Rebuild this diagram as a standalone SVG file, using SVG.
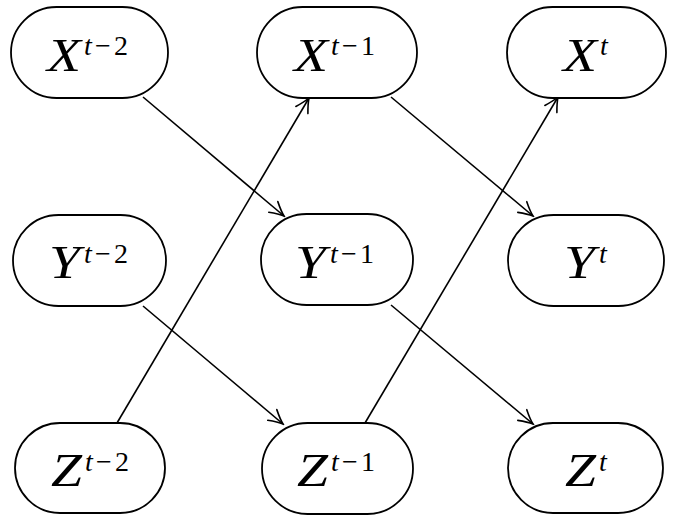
<svg xmlns="http://www.w3.org/2000/svg" width="678" height="524" viewBox="0 0 678 524">
<style>
.node rect{fill:#fff;stroke:#000;stroke-width:1.8}
.b{font-family:"Liberation Serif","Times New Roman",serif;font-style:italic;font-size:46px;fill:#000}
.s{font-family:"Liberation Serif","Times New Roman",serif;font-size:28px;fill:#000}
.i{font-style:italic}
.edge{stroke:#000;stroke-width:1.6;fill:none;marker-end:url(#arr)}
</style>
<defs>
<marker id="arr" markerUnits="userSpaceOnUse" viewBox="-17 -9 19 18" refX="0" refY="0" markerWidth="19" markerHeight="18" orient="auto">
<path d="M-14,-7 C-9,-4 -3,-1 0,0 C-3,1 -9,4 -14,7" fill="none" stroke="#000" stroke-width="1.6" stroke-linecap="round"/>
</marker>
</defs>
<rect width="678" height="524" fill="#fff"/>
<g id="connectors">
<line class="edge" x1="143" y1="97" x2="284" y2="216"/>
<line class="edge" x1="117" y1="423" x2="309" y2="98"/>
<line class="edge" x1="391" y1="97" x2="533" y2="216"/>
<line class="edge" x1="143" y1="306" x2="283" y2="424"/>
<line class="edge" x1="365" y1="423" x2="558" y2="97"/>
<line class="edge" x1="391" y1="305" x2="533" y2="424"/>
</g>
<g id="X_t-2" class="node">
<rect x="11" y="7" width="157" height="91" rx="45.5"/>
<text class="b" x="47" y="71" textLength="34" lengthAdjust="spacingAndGlyphs">X</text>
<text class="s" x="84" y="55" textLength="44" lengthAdjust="spacing"><tspan class="i">t</tspan>−2</text>
</g>
<g id="X_t-1" class="node">
<rect x="257" y="7" width="160" height="91" rx="45.5"/>
<text class="b" x="294" y="71" textLength="34" lengthAdjust="spacingAndGlyphs">X</text>
<text class="s" x="331" y="55" textLength="44" lengthAdjust="spacing"><tspan class="i">t</tspan>−1</text>
</g>
<g id="X_t" class="node">
<rect x="507" y="7" width="159" height="91" rx="45.5"/>
<text class="b" x="563" y="71" textLength="34" lengthAdjust="spacingAndGlyphs">X</text>
<text class="s i" x="600" y="55">t</text>
</g>
<g id="Y_t-2" class="node">
<rect x="13" y="215" width="153" height="91" rx="45.5"/>
<text class="b" x="49" y="278" textLength="31" lengthAdjust="spacingAndGlyphs">Y</text>
<text class="s" x="84" y="263" textLength="44" lengthAdjust="spacing"><tspan class="i">t</tspan>−2</text>
</g>
<g id="Y_t-1" class="node">
<rect x="261" y="214" width="152" height="91" rx="45.5"/>
<text class="b" x="295" y="278" textLength="31" lengthAdjust="spacingAndGlyphs">Y</text>
<text class="s" x="330" y="263" textLength="44" lengthAdjust="spacing"><tspan class="i">t</tspan>−1</text>
</g>
<g id="Y_t" class="node">
<rect x="508" y="215" width="156" height="91" rx="45.5"/>
<text class="b" x="564" y="278" textLength="31" lengthAdjust="spacingAndGlyphs">Y</text>
<text class="s i" x="599" y="263">t</text>
</g>
<g id="Z_t-2" class="node">
<rect x="15" y="423" width="150" height="90" rx="45"/>
<text class="b" x="51" y="486" textLength="31" lengthAdjust="spacingAndGlyphs">Z</text>
<text class="s" x="85" y="471" textLength="44" lengthAdjust="spacing"><tspan class="i">t</tspan>−2</text>
</g>
<g id="Z_t-1" class="node">
<rect x="262" y="423" width="151" height="91" rx="45.5"/>
<text class="b" x="297" y="486" textLength="31" lengthAdjust="spacingAndGlyphs">Z</text>
<text class="s" x="331" y="471" textLength="44" lengthAdjust="spacing"><tspan class="i">t</tspan>−1</text>
</g>
<g id="Z_t" class="node">
<rect x="508" y="423" width="155" height="90" rx="45"/>
<text class="b" x="565" y="486" textLength="31" lengthAdjust="spacingAndGlyphs">Z</text>
<text class="s i" x="599" y="471">t</text>
</g>
</svg>
